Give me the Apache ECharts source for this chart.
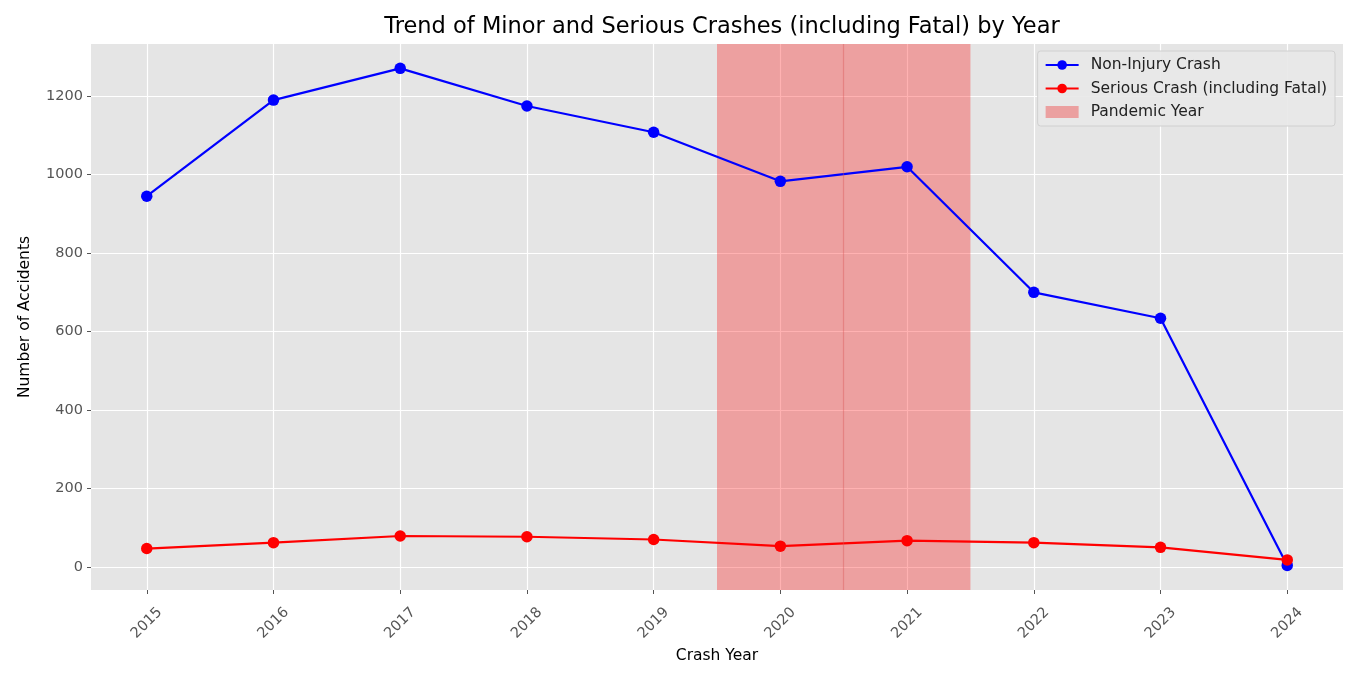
<!DOCTYPE html>
<html>
<head>
<meta charset="utf-8">
<script src="https://cdn.jsdelivr.net/npm/echarts@6/dist/echarts.min.js"></script>
<style>
  html, body { margin: 0; padding: 0; background: #fff; }
  #chart { width: 1365px; height: 684px; }
</style>
</head>
<body>
<div id="chart"></div>
<script>
var years = [2015, 2016, 2017, 2018, 2019, 2020, 2021, 2022, 2023, 2024];
var nonInjury = [945, 1190, 1271, 1175, 1108, 983, 1020, 700, 634, 4];
var serious = [47, 62, 79, 77, 70, 53, 67, 62, 50, 18];
var pandemicYears = [2020, 2021];
var yTicks = [0, 200, 400, 600, 800, 1000, 1200];

window.onload = function () {
	var chart = echarts.init(document.getElementById('chart'));
	var font = 'DejaVu Sans';

	function pairs(vals) {
		var out = [];
		for (var i = 0; i < years.length; i++) {
			out.push([years[i], vals[i]]);
		}
		return out;
	}

	// each pandemic year is shaded from -0.5 to +0.5 around it
	var areas = [];
	var joins = [];
	for (var i = 0; i < pandemicYears.length; i++) {
		areas.push([{ xAxis: pandemicYears[i] - 0.5 }, { xAxis: pandemicYears[i] + 0.5 }]);
		if (i > 0 && pandemicYears[i] - pandemicYears[i - 1] == 1) {
			joins.push({ xAxis: pandemicYears[i] - 0.5 });
		}
	}

	var option = {
		animation: false,
		backgroundColor: '#fff',
		textStyle: { fontFamily: font },
		title: {
			text: 'Trend of Minor and Serious Crashes (including Fatal) by Year',
			left: 717,
			textAlign: 'center',
			top: 11,
			textStyle: { fontFamily: font, fontSize: 22.5, fontWeight: 'normal', color: '#000' }
		},
		legend: {
			orient: 'vertical',
			right: 30,
			top: 51,
			padding: [6, 8, 6, 7],
			itemWidth: 33,
			itemHeight: 12,
			itemGap: 7.5,
			backgroundColor: 'rgba(232,232,232,0.9)',
			borderColor: '#d0d0d0',
			borderWidth: 1,
			borderRadius: 3,
			textStyle: { fontFamily: font, fontSize: 15.5, color: '#222', padding: [0, 0, 0, 7] },
			data: [
				{ name: 'Non-Injury Crash' },
				{ name: 'Serious Crash (including Fatal)' },
				{ name: 'Pandemic Year', icon: 'rect', itemStyle: { color: '#EBA0A0' } }
			]
		},
		grid: {
			left: 91,
			right: 22,
			top: 44,
			bottom: 94,
			show: true,
			backgroundColor: '#E5E5E5',
			borderWidth: 0
		},
		xAxis: {
			type: 'value',
			min: 2014.56,
			max: 2024.44,
			minInterval: 1,
			maxInterval: 1,
			name: 'Crash Year',
			nameLocation: 'middle',
			nameGap: 58,
			nameTextStyle: { fontFamily: font, fontSize: 15.5, color: '#000' },
			axisLine: { show: false, onZero: false },
			axisTick: { show: true, length: 4, customValues: years, lineStyle: { color: '#555' } },
			axisLabel: {
				customValues: years,
				rotate: 45,
				align: 'center',
				verticalAlign: 'middle',
				margin: 33,
				fontFamily: font,
				fontSize: 14.5,
				color: '#555',
				formatter: function (v) { return String(v); }
			},
			splitLine: { show: true, lineStyle: { color: '#fff', width: 1.2 } }
		},
		yAxis: {
			type: 'value',
			min: -58.7,
			max: 1333,
			minInterval: 200,
			maxInterval: 200,
			name: 'Number of Accidents',
			nameLocation: 'middle',
			nameGap: 58,
			nameTextStyle: { fontFamily: font, fontSize: 15.5, color: '#000' },
			axisLine: { show: false, onZero: false },
			axisTick: { show: true, length: 4, customValues: yTicks, lineStyle: { color: '#555' } },
			axisLabel: {
				customValues: yTicks,
				margin: 8,
				fontFamily: font,
				fontSize: 14.5,
				color: '#555',
				formatter: function (v) { return String(v); }
			},
			splitLine: { show: true, lineStyle: { color: '#fff', width: 1.2 } }
		},
		series: [
			{
				name: 'Pandemic Year',
				type: 'line',
				data: [],
				z: 1,
				itemStyle: { color: '#EBA0A0' },
				markArea: {
					silent: true,
					itemStyle: { color: 'rgba(255,0,0,0.3)' },
					data: areas
				},
				markLine: {
					silent: true,
					symbol: 'none',
					label: { show: false },
					lineStyle: { color: 'rgba(220,80,80,0.4)', width: 1.2, type: 'solid' },
					data: joins
				}
			},
			{
				name: 'Non-Injury Crash',
				type: 'line',
				z: 3,
				data: pairs(nonInjury),
				symbol: 'circle',
				symbolSize: 11.5,
				lineStyle: { color: '#0000FF', width: 2.2 },
				itemStyle: { color: '#0000FF' }
			},
			{
				name: 'Serious Crash (including Fatal)',
				type: 'line',
				z: 4,
				data: pairs(serious),
				symbol: 'circle',
				symbolSize: 11.5,
				lineStyle: { color: '#FF0000', width: 2.2 },
				itemStyle: { color: '#FF0000' }
			}
		]
	};

	chart.setOption(option);
};
</script>
</body>
</html>
